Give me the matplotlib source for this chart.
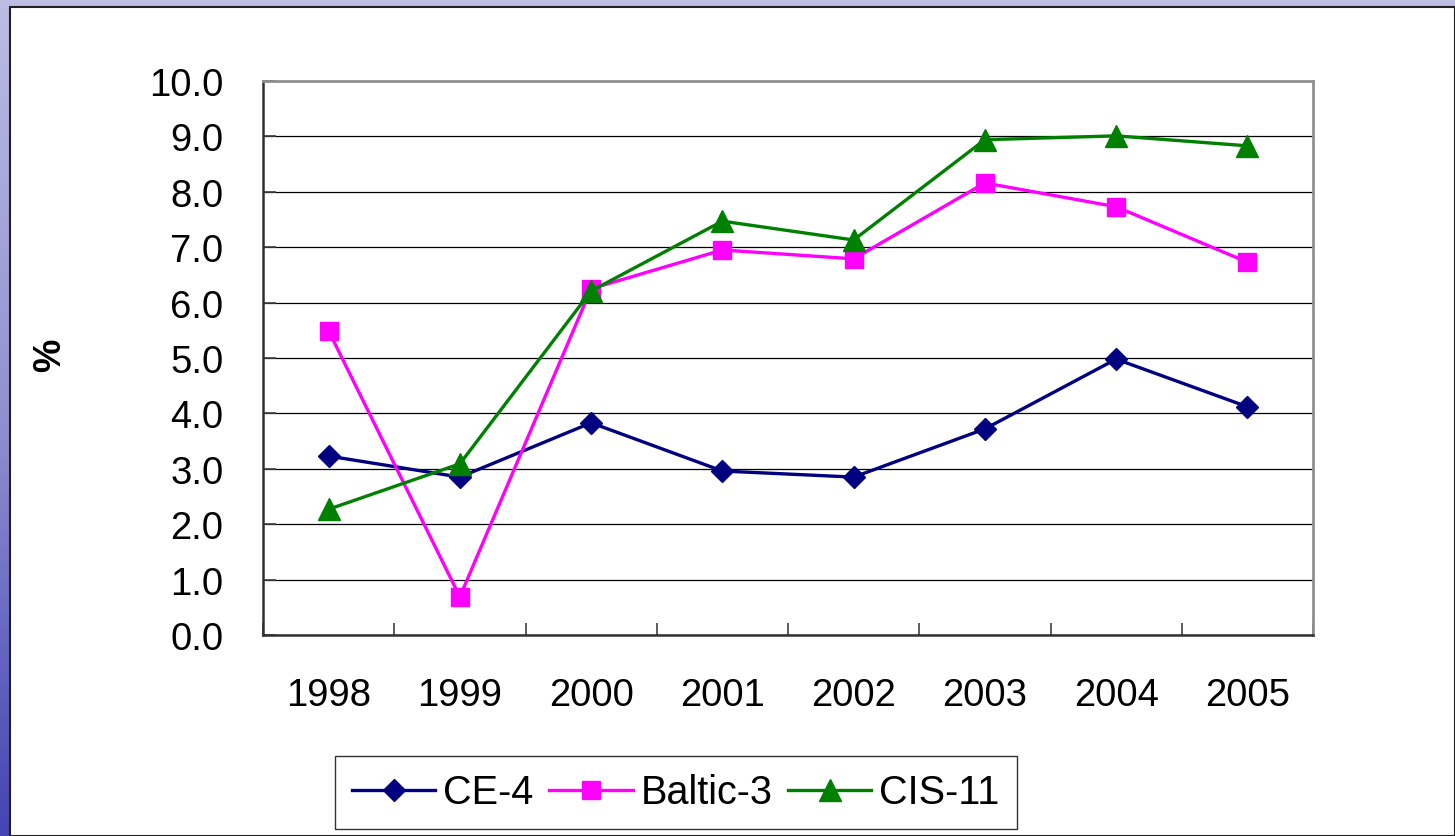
import numpy as np
import matplotlib
matplotlib.use("Agg")
import matplotlib.pyplot as plt
from matplotlib.patches import Rectangle
from matplotlib.colors import LinearSegmentedColormap

plt.rcParams['font.family'] = ['Liberation Sans', 'DejaVu Sans']

years = ['1998', '1999', '2000', '2001', '2002', '2003', '2004', '2005']
ce4 = [3.23, 2.85, 3.83, 2.96, 2.85, 3.72, 4.98, 4.12]
baltic3 = [5.49, 0.69, 6.25, 6.95, 6.79, 8.16, 7.73, 6.73]
cis11 = [2.27, 3.09, 6.21, 7.47, 7.13, 8.94, 9.01, 8.83]
yticks = [0.0, 1.0, 2.0, 3.0, 4.0, 5.0, 6.0, 7.0, 8.0, 9.0, 10.0]

W, H = 1455, 837
fig = plt.figure(figsize=(W / 100, H / 100), dpi=100)

# slide background gradient
bg = fig.add_axes([0, 0, 1, 1], zorder=-10)
cmap = LinearSegmentedColormap.from_list('bg', ['#bcbce4', '#9090d0', '#4444b4'])
grad = np.linspace(0, 1, 256).reshape(-1, 1)
bg.imshow(grad, aspect='auto', cmap=cmap, extent=[0, 1, 0, 1], origin='upper')
bg.set_axis_off()

# white panel
fig.patches.append(Rectangle((10 / W, 0), 1 - 10 / W, 1 - 8 / H, transform=fig.transFigure,
                             facecolor='white', edgecolor='#202020', linewidth=1.5, zorder=-5))

ax = fig.add_axes([263 / W, 1 - 636 / H, 1050 / W, 554 / H])
ax.set_facecolor('white')
x = np.arange(len(years))

ax.plot(x, ce4, color='#000080', lw=2.4, marker='D', ms=11.5, label='CE-4', zorder=3)
ax.plot(x, baltic3, color='#FF00FF', lw=2.4, marker='s', ms=13, label='Baltic-3', zorder=3)
ax.plot(x, cis11, color='#008000', lw=2.4, marker='^', ms=15.5, label='CIS-11', zorder=3)

ax.set_xlim(-0.5, len(years) - 0.5)
ax.set_ylim(0, 10)
ax.set_yticks(yticks)
ax.set_yticklabels([f'{v:.1f}' for v in yticks])
ax.set_xticks(x)
ax.set_xticklabels(years)
ax.set_xticks(np.arange(-0.5, len(years), 1.0), minor=True)
ax.tick_params(axis='x', which='major', length=0, pad=30, labelsize=27.5)
ax.tick_params(axis='x', which='minor', direction='in', length=9, width=1.2, color='#404040')
ax.tick_params(axis='y', direction='in', length=9, width=1.2, color='#404040', pad=28.5, labelsize=27.5)

ax.grid(axis='y', color='black', linewidth=0.9)
ax.set_axisbelow(True)
for s in ['left', 'bottom']:
    ax.spines[s].set_color('#303030')
    ax.spines[s].set_linewidth(1.8)
for s in ['top', 'right']:
    ax.spines[s].set_color('#909090')
    ax.spines[s].set_linewidth(2.0)

fig.text(50 / W, 1 - 355 / H, '%', rotation=90, fontsize=27, fontweight='bold',
         ha='center', va='center')

leg = fig.legend(loc='center', bbox_to_anchor=(676 / W, 1 - 793.5 / H), ncol=3,
                 fontsize=28.5, frameon=True, fancybox=False, handlelength=2.1,
                 handletextpad=0.2, columnspacing=0.4, borderpad=0.45, borderaxespad=0)
leg.get_frame().set_edgecolor('black')
leg.get_frame().set_linewidth(1.0)

fig.savefig('out.png', dpi=100)
